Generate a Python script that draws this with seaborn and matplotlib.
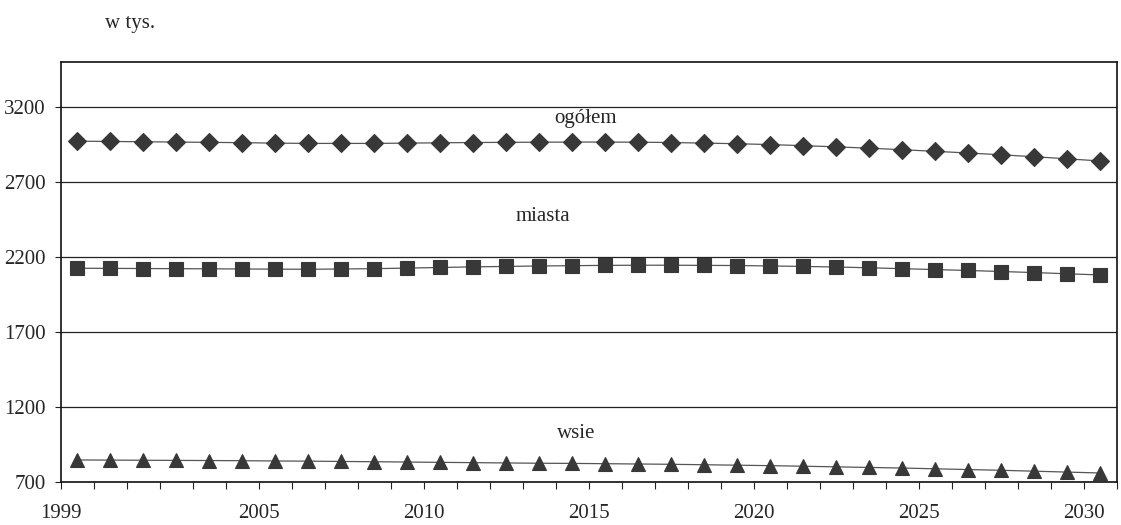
import numpy as np
import pandas as pd
import matplotlib
matplotlib.use("Agg")
import matplotlib.pyplot as plt
import seaborn as sns

# -----------------------------
# Data (w tys.)
# -----------------------------

years = list(range(1999, 2031))

ogolem = [2972, 2970, 2968, 2966, 2964, 2962, 2959, 2957, 2957, 2957,
          2959, 2961, 2963, 2964, 2965, 2966, 2966, 2965, 2963, 2959,
          2955, 2949, 2942, 2934, 2925, 2915, 2904, 2893, 2881, 2868,
          2854, 2840]

miasta = [2125, 2124, 2123, 2122, 2121, 2120, 2119, 2118, 2120, 2122,
          2126, 2130, 2134, 2137, 2140, 2142, 2144, 2145, 2145, 2144,
          2143, 2140, 2137, 2133, 2128, 2122, 2116, 2110, 2103, 2096,
          2088, 2080]

wsie = [847, 846, 845, 844, 843, 842, 840, 839, 837, 835,
        833, 831, 829, 827, 825, 824, 822, 820, 818, 815,
        812, 809, 805, 801, 797, 793, 788, 783, 778, 772,
        766, 760]

label_years = [1999, 2005, 2010, 2015, 2020, 2025, 2030]
y_ticks = [700, 1200, 1700, 2200, 2700, 3200]

data = pd.DataFrame({"rok": years, "ogółem": ogolem, "miasta": miasta, "wsie": wsie})

# -----------------------------
# Plot
# -----------------------------

sns.set_style("white")
plt.rcParams["font.family"] = ["Liberation Serif", "DejaVu Serif"]

fig = plt.figure(figsize=(11.21, 5.25), dpi=100)
ax = fig.add_axes([0.0544, 0.0819, 0.9420, 0.8001])

marker_color = "#383838"
line_kw = dict(color="#555555", linewidth=0.9, markerfacecolor=marker_color,
               markeredgecolor=marker_color, markeredgewidth=0.8)

sns.lineplot(data=data, x="rok", y="ogółem", marker="D", markersize=9.5, ax=ax, **line_kw)
sns.lineplot(data=data, x="rok", y="miasta", marker="s", markersize=10.5, ax=ax, **line_kw)
sns.lineplot(data=data, x="rok", y="wsie", marker="^", markersize=10.5, ax=ax, **line_kw)

ax.set_xlim(years[0] - 0.5, years[-1] + 0.5)
ax.set_ylim(700, 3500)

ax.set_yticks(y_ticks)
ax.set_yticklabels([str(v) for v in y_ticks], fontsize=15)
ax.yaxis.grid(True, color="#222222", linewidth=0.9)
ax.set_axisbelow(True)

ax.set_xticks([y - 0.5 for y in label_years])
ax.set_xticklabels([str(y) for y in label_years], fontsize=15)
ax.set_xticks([y - 0.5 for y in years] + [years[-1] + 0.5], minor=True)
ax.tick_params(axis="x", which="both", direction="out", length=5, width=0.8,
               color="#222222", pad=11, bottom=True)
ax.tick_params(axis="y", which="major", direction="out", length=4, width=0.8,
               color="#222222", pad=7, left=True)

for side in ["left", "right", "top", "bottom"]:
    ax.spines[side].set_visible(True)
    ax.spines[side].set_color("#111111")
    ax.spines[side].set_linewidth(1.2)

ax.set_xlabel("")
ax.set_ylabel("")

ax.text(2014.4, 3125, "ogółem", fontsize=15, ha="center", va="center")
ax.text(2013.1, 2470, "miasta", fontsize=15, ha="center", va="center")
ax.text(2014.1, 1020, "wsie", fontsize=15, ha="center", va="center")

fig.text(0.094, 0.956, "w tys.", fontsize=15, ha="left", va="center")

fig.savefig("out.png", dpi=100)
